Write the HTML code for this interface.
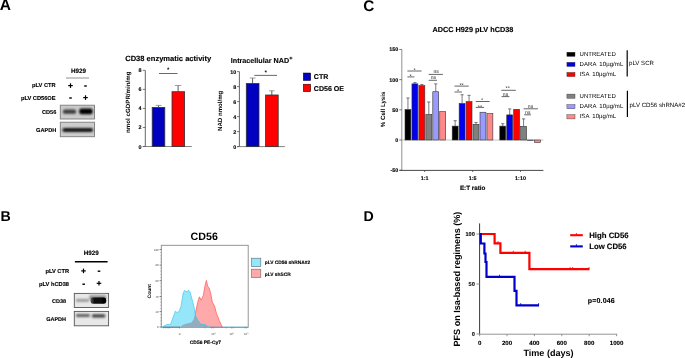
<!DOCTYPE html>
<html><head><meta charset="utf-8"><title>Figure</title>
<style>html,body{margin:0;padding:0;background:#fff;}svg{display:block;will-change:transform;}text{font-family:"Liberation Sans",sans-serif;text-rendering:geometricPrecision;}</style>
</head><body>
<svg width="685" height="358" viewBox="0 0 685 358" font-family="Liberation Sans, sans-serif">
<defs><filter id="bl3" x="-50%" y="-100%" width="200%" height="300%"><feGaussianBlur stdDeviation="0.85"/></filter><filter id="bl2" x="-50%" y="-100%" width="200%" height="300%"><feGaussianBlur stdDeviation="1.2"/></filter><filter id="bl" x="-50%" y="-100%" width="200%" height="300%"><feGaussianBlur stdDeviation="0.7"/></filter></defs>
<rect width="685" height="358" fill="#fff"/>
<text x="-0.2" y="10.3" font-size="15.5" font-weight="bold" text-anchor="start" fill="#000" >A</text>
<text x="0.4" y="220.8" font-size="14.2" font-weight="bold" text-anchor="start" fill="#000" >B</text>
<text x="363.2" y="10.8" font-size="15.3" font-weight="bold" text-anchor="start" fill="#000" >C</text>
<text x="363.6" y="220.8" font-size="14.2" font-weight="bold" text-anchor="start" fill="#000" >D</text>
<text x="78.5" y="73.2" font-size="6.3" font-weight="bold" text-anchor="middle" fill="#000" stroke="#000" stroke-width="0.12" >H929</text>
<line x1="66" y1="78" x2="89" y2="78" stroke="#aaa" stroke-width="1.3" />
<text x="55.6" y="87.0" font-size="5.7" font-weight="bold" text-anchor="end" fill="#000" stroke="#000" stroke-width="0.12" >pLV CTR</text>
<text x="55.6" y="99.6" font-size="5.7" font-weight="bold" text-anchor="end" fill="#000" stroke="#000" stroke-width="0.12" >pLV CD56OE</text>
<line x1="68.2" y1="85.6" x2="72.8" y2="85.6" stroke="#000" stroke-width="1.2" />
<line x1="70.5" y1="83.3" x2="70.5" y2="87.89999999999999" stroke="#000" stroke-width="1.2" />
<line x1="84.2" y1="86" x2="86.8" y2="86" stroke="#000" stroke-width="1.4" />
<line x1="69.2" y1="98" x2="71.8" y2="98" stroke="#000" stroke-width="1.4" />
<line x1="83.2" y1="97.6" x2="87.8" y2="97.6" stroke="#000" stroke-width="1.2" />
<line x1="85.5" y1="95.3" x2="85.5" y2="99.89999999999999" stroke="#000" stroke-width="1.2" />
<text x="56.3" y="113.6" font-size="5.6" font-weight="bold" text-anchor="end" fill="#000" stroke="#000" stroke-width="0.12" >CD56</text>
<text x="56.3" y="132.2" font-size="5.6" font-weight="bold" text-anchor="end" fill="#000" stroke="#000" stroke-width="0.12" >GAPDH</text>
<rect x="60.3" y="105.2" width="34.2" height="13.8" fill="#cbcbcb" stroke="#7c7c7c" stroke-width="0.9" />
<rect x="60.3" y="122.2" width="34.2" height="14.5" fill="#cdcdcd" stroke="#7c7c7c" stroke-width="0.9" />
<rect x="63" y="109.4" width="13" height="4.4" rx="1.5" fill="#3a3a3a" filter="url(#bl3)"/>
<rect x="79.3" y="108.4" width="13.3" height="5.8" rx="2" fill="#050505" filter="url(#bl3)"/>
<rect x="62.5" y="128.0" width="30.5" height="4.1" rx="1.8" fill="#151515" filter="url(#bl3)"/>
<text x="125.2" y="61" font-size="7.55" font-weight="bold" text-anchor="start" fill="#000" stroke="#000" stroke-width="0.12" >CD38 enzymatic activity</text>
<line x1="145.3" y1="70.4" x2="145.3" y2="146.5" stroke="#555" stroke-width="0.9" />
<line x1="142.8" y1="146.5" x2="191.8" y2="146.5" stroke="#777" stroke-width="0.9" />
<line x1="142.8" y1="146.5" x2="145.3" y2="146.5" stroke="#555" stroke-width="0.8" />
<text x="141.6" y="148.5" font-size="5.4" font-weight="bold" text-anchor="end" fill="#000" stroke="#000" stroke-width="0.12" >0</text>
<line x1="142.8" y1="127.46000000000001" x2="145.3" y2="127.46000000000001" stroke="#555" stroke-width="0.8" />
<text x="141.6" y="129.46" font-size="5.4" font-weight="bold" text-anchor="end" fill="#000" stroke="#000" stroke-width="0.12" >2</text>
<line x1="142.8" y1="108.42" x2="145.3" y2="108.42" stroke="#555" stroke-width="0.8" />
<text x="141.6" y="110.42" font-size="5.4" font-weight="bold" text-anchor="end" fill="#000" stroke="#000" stroke-width="0.12" >4</text>
<line x1="142.8" y1="89.38" x2="145.3" y2="89.38" stroke="#555" stroke-width="0.8" />
<text x="141.6" y="91.38" font-size="5.4" font-weight="bold" text-anchor="end" fill="#000" stroke="#000" stroke-width="0.12" >6</text>
<line x1="142.8" y1="70.34" x2="145.3" y2="70.34" stroke="#555" stroke-width="0.8" />
<text x="141.6" y="72.34" font-size="5.4" font-weight="bold" text-anchor="end" fill="#000" stroke="#000" stroke-width="0.12" >8</text>
<line x1="158.6" y1="107.4" x2="158.6" y2="105.4" stroke="#333" stroke-width="0.8" />
<line x1="155.7" y1="105.4" x2="161.5" y2="105.4" stroke="#777" stroke-width="0.7" />
<rect x="152.2" y="107.4" width="12.600000000000023" height="39.099999999999994" fill="#0000c0" stroke="#333" stroke-width="0.8" />
<line x1="178.1" y1="91.7" x2="178.1" y2="85.5" stroke="#333" stroke-width="0.8" />
<line x1="174.9" y1="85.5" x2="181.29999999999998" y2="85.5" stroke="#777" stroke-width="0.7" />
<rect x="172.0" y="91.7" width="12.599999999999994" height="54.8" fill="#ff0000" stroke="#333" stroke-width="0.8" />
<line x1="159" y1="73.5" x2="177.5" y2="73.5" stroke="#444" stroke-width="0.8" />
<text x="168.2" y="71.2" font-size="5" font-weight="bold" text-anchor="middle" fill="#000" stroke="#000" stroke-width="0.12" >*</text>
<text x="0" y="0" font-size="6.2" font-weight="bold" text-anchor="middle" transform="translate(130.4,102.2) rotate(-90)">nmol cGDPR/min/mg</text>
<text x="230.8" y="62.9" font-size="7.2" font-weight="bold" text-anchor="start" fill="#000" stroke="#000" stroke-width="0.12" >Intracellular NAD<tspan font-size="5.6" dy="-3.3">+</tspan></text>
<line x1="239.4" y1="71.6" x2="239.4" y2="146.6" stroke="#555" stroke-width="0.9" />
<line x1="237" y1="146.6" x2="284.9" y2="146.6" stroke="#777" stroke-width="0.9" />
<line x1="237" y1="146.6" x2="239.4" y2="146.6" stroke="#555" stroke-width="0.8" />
<text x="236.2" y="148.6" font-size="5.4" font-weight="bold" text-anchor="end" fill="#000" stroke="#000" stroke-width="0.12" >0</text>
<line x1="237" y1="131.6" x2="239.4" y2="131.6" stroke="#555" stroke-width="0.8" />
<text x="236.2" y="133.6" font-size="5.4" font-weight="bold" text-anchor="end" fill="#000" stroke="#000" stroke-width="0.12" >2</text>
<line x1="237" y1="116.6" x2="239.4" y2="116.6" stroke="#555" stroke-width="0.8" />
<text x="236.2" y="118.6" font-size="5.4" font-weight="bold" text-anchor="end" fill="#000" stroke="#000" stroke-width="0.12" >4</text>
<line x1="237" y1="101.6" x2="239.4" y2="101.6" stroke="#555" stroke-width="0.8" />
<text x="236.2" y="103.6" font-size="5.4" font-weight="bold" text-anchor="end" fill="#000" stroke="#000" stroke-width="0.12" >6</text>
<line x1="237" y1="86.6" x2="239.4" y2="86.6" stroke="#555" stroke-width="0.8" />
<text x="236.2" y="88.6" font-size="5.4" font-weight="bold" text-anchor="end" fill="#000" stroke="#000" stroke-width="0.12" >8</text>
<line x1="237" y1="71.6" x2="239.4" y2="71.6" stroke="#555" stroke-width="0.8" />
<text x="236.2" y="73.6" font-size="5.4" font-weight="bold" text-anchor="end" fill="#000" stroke="#000" stroke-width="0.12" >10</text>
<line x1="252.6" y1="83.5" x2="252.6" y2="78" stroke="#333" stroke-width="0.8" />
<line x1="249.7" y1="78" x2="255.5" y2="78" stroke="#777" stroke-width="0.7" />
<rect x="246.3" y="83.5" width="12.699999999999989" height="63.099999999999994" fill="#0000c0" stroke="#333" stroke-width="0.8" />
<line x1="271.8" y1="95" x2="271.8" y2="90.8" stroke="#333" stroke-width="0.8" />
<line x1="269.0" y1="90.8" x2="274.6" y2="90.8" stroke="#777" stroke-width="0.7" />
<rect x="265.6" y="95" width="12.599999999999966" height="51.599999999999994" fill="#ff0000" stroke="#333" stroke-width="0.8" />
<line x1="254.3" y1="75.4" x2="277" y2="75.4" stroke="#444" stroke-width="0.8" />
<text x="265.8" y="74.4" font-size="5.2" font-weight="bold" text-anchor="middle" fill="#000" stroke="#000" stroke-width="0.12" >*</text>
<text x="0" y="0" font-size="6.1" font-weight="bold" text-anchor="middle" transform="translate(222.4,110.8) rotate(-90)">NAD nmol/mg</text>
<rect x="303.3" y="73" width="7.4" height="7.5" fill="#0000c8" stroke="#000" stroke-width="0.5" />
<rect x="303.3" y="84.2" width="7.4" height="7.5" fill="#ff0000" stroke="#000" stroke-width="0.5" />
<text x="313.8" y="79.1" font-size="7.05" font-weight="bold" text-anchor="start" fill="#000" stroke="#000" stroke-width="0.12" >CTR</text>
<text x="313.8" y="90.5" font-size="7.05" font-weight="bold" text-anchor="start" fill="#000" stroke="#000" stroke-width="0.12" >CD56 OE</text>
<text x="432.4" y="31.5" font-size="7.3" font-weight="bold" text-anchor="start" fill="#000" stroke="#000" stroke-width="0.12" >ADCC H929 pLV hCD38</text>
<line x1="401.8" y1="49.6" x2="401.8" y2="170.4" stroke="#9a9a9a" stroke-width="1.1" />
<line x1="399.4" y1="170.4" x2="543.4" y2="170.4" stroke="#333" stroke-width="0.9" />
<line x1="401.8" y1="140.0" x2="543.4" y2="140.0" stroke="#bdbdbd" stroke-width="0.9" />
<line x1="399.3" y1="49.474999999999994" x2="401.8" y2="49.474999999999994" stroke="#555" stroke-width="0.8" />
<text x="398.3" y="51.37499999999999" font-size="5.4" font-weight="bold" text-anchor="end" fill="#000" stroke="#000" stroke-width="0.12" >150</text>
<line x1="399.3" y1="79.65" x2="401.8" y2="79.65" stroke="#555" stroke-width="0.8" />
<text x="398.3" y="81.55000000000001" font-size="5.4" font-weight="bold" text-anchor="end" fill="#000" stroke="#000" stroke-width="0.12" >100</text>
<line x1="399.3" y1="109.825" x2="401.8" y2="109.825" stroke="#555" stroke-width="0.8" />
<text x="398.3" y="111.72500000000001" font-size="5.4" font-weight="bold" text-anchor="end" fill="#000" stroke="#000" stroke-width="0.12" >50</text>
<line x1="399.3" y1="140.0" x2="401.8" y2="140.0" stroke="#555" stroke-width="0.8" />
<text x="398.3" y="141.9" font-size="5.4" font-weight="bold" text-anchor="end" fill="#000" stroke="#000" stroke-width="0.12" >0</text>
<line x1="399.3" y1="170.175" x2="401.8" y2="170.175" stroke="#555" stroke-width="0.8" />
<text x="398.3" y="172.07500000000002" font-size="5.4" font-weight="bold" text-anchor="end" fill="#000" stroke="#000" stroke-width="0.12" >-50</text>
<line x1="424.6" y1="170.4" x2="424.6" y2="172" stroke="#333" stroke-width="0.7" />
<text x="424.6" y="179.5" font-size="5.4" font-weight="bold" text-anchor="middle" fill="#000" stroke="#000" stroke-width="0.12" >1:1</text>
<line x1="472.7" y1="170.4" x2="472.7" y2="172" stroke="#333" stroke-width="0.7" />
<text x="472.7" y="179.5" font-size="5.4" font-weight="bold" text-anchor="middle" fill="#000" stroke="#000" stroke-width="0.12" >1:5</text>
<line x1="520.5" y1="170.4" x2="520.5" y2="172" stroke="#333" stroke-width="0.7" />
<text x="520.5" y="179.5" font-size="5.4" font-weight="bold" text-anchor="middle" fill="#000" stroke="#000" stroke-width="0.12" >1:10</text>
<text x="472.7" y="190.2" font-size="6.3" font-weight="bold" text-anchor="middle" fill="#000" stroke="#000" stroke-width="0.12" >E:T ratio</text>
<text x="0" y="0" font-size="6.15" font-weight="bold" text-anchor="middle" transform="translate(385.4,109.4) rotate(-90)">% Cell Lysis</text>
<line x1="407.95" y1="109.52324999999999" x2="407.95" y2="97.9964" stroke="#444" stroke-width="0.7" />
<line x1="406.34999999999997" y1="97.9964" x2="409.55" y2="97.9964" stroke="#444" stroke-width="0.7" />
<rect x="405.0" y="109.52324999999999" width="5.899999999999977" height="30.47675000000001" fill="#000000" stroke="#333" stroke-width="0.6" />
<line x1="414.9" y1="83.8745" x2="414.9" y2="82.66749999999999" stroke="#444" stroke-width="0.7" />
<line x1="413.29999999999995" y1="82.66749999999999" x2="416.5" y2="82.66749999999999" stroke="#444" stroke-width="0.7" />
<rect x="411.95" y="83.8745" width="5.899999999999977" height="56.1255" fill="#0000ee" stroke="#333" stroke-width="0.6" />
<line x1="421.84999999999997" y1="85.685" x2="421.84999999999997" y2="84.478" stroke="#444" stroke-width="0.7" />
<line x1="420.24999999999994" y1="84.478" x2="423.45" y2="84.478" stroke="#444" stroke-width="0.7" />
<rect x="418.9" y="85.685" width="5.899999999999977" height="54.315" fill="#ff0000" stroke="#333" stroke-width="0.6" />
<line x1="428.8" y1="114.47194999999999" x2="428.8" y2="101.9795" stroke="#444" stroke-width="0.7" />
<line x1="427.2" y1="101.9795" x2="430.40000000000003" y2="101.9795" stroke="#444" stroke-width="0.7" />
<rect x="425.85" y="114.47194999999999" width="5.899999999999977" height="25.528050000000007" fill="#808080" stroke="#333" stroke-width="0.6" />
<line x1="435.75" y1="91.72" x2="435.75" y2="83.8745" stroke="#444" stroke-width="0.7" />
<line x1="434.15" y1="83.8745" x2="437.35" y2="83.8745" stroke="#444" stroke-width="0.7" />
<rect x="432.8" y="91.72" width="5.899999999999977" height="48.28" fill="#9999ff" stroke="#333" stroke-width="0.6" />
<rect x="439.75" y="111.6355" width="5.899999999999977" height="28.364500000000007" fill="#ff8888" stroke="#333" stroke-width="0.6" />
<line x1="455.15" y1="126.1195" x2="455.15" y2="120.688" stroke="#444" stroke-width="0.7" />
<line x1="453.54999999999995" y1="120.688" x2="456.75" y2="120.688" stroke="#444" stroke-width="0.7" />
<rect x="452.2" y="126.1195" width="5.899999999999977" height="13.880499999999998" fill="#000000" stroke="#333" stroke-width="0.6" />
<line x1="462.09999999999997" y1="103.48825" x2="462.09999999999997" y2="94.7375" stroke="#444" stroke-width="0.7" />
<line x1="460.49999999999994" y1="94.7375" x2="463.7" y2="94.7375" stroke="#444" stroke-width="0.7" />
<rect x="459.15" y="103.48825" width="5.899999999999977" height="36.511750000000006" fill="#0000ee" stroke="#333" stroke-width="0.6" />
<line x1="469.04999999999995" y1="101.6174" x2="469.04999999999995" y2="95.341" stroke="#444" stroke-width="0.7" />
<line x1="467.44999999999993" y1="95.341" x2="470.65" y2="95.341" stroke="#444" stroke-width="0.7" />
<rect x="466.09999999999997" y="101.6174" width="5.899999999999977" height="38.3826" fill="#ff0000" stroke="#333" stroke-width="0.6" />
<line x1="476.0" y1="124.309" x2="476.0" y2="122.4985" stroke="#444" stroke-width="0.7" />
<line x1="474.4" y1="122.4985" x2="477.6" y2="122.4985" stroke="#444" stroke-width="0.7" />
<rect x="473.05" y="124.309" width="5.899999999999977" height="15.691000000000003" fill="#808080" stroke="#333" stroke-width="0.6" />
<rect x="480.0" y="112.239" width="5.899999999999977" height="27.760999999999996" fill="#9999ff" stroke="#333" stroke-width="0.6" />
<rect x="486.95" y="113.6874" width="5.899999999999977" height="26.312600000000003" fill="#ff8888" stroke="#333" stroke-width="0.6" />
<line x1="502.75" y1="126.1195" x2="502.75" y2="123.7055" stroke="#444" stroke-width="0.7" />
<line x1="501.15" y1="123.7055" x2="504.35" y2="123.7055" stroke="#444" stroke-width="0.7" />
<rect x="499.8" y="126.1195" width="5.899999999999977" height="13.880499999999998" fill="#000000" stroke="#333" stroke-width="0.6" />
<line x1="509.7" y1="114.89439999999999" x2="509.7" y2="108.91975" stroke="#444" stroke-width="0.7" />
<line x1="508.09999999999997" y1="108.91975" x2="511.3" y2="108.91975" stroke="#444" stroke-width="0.7" />
<rect x="506.75" y="114.89439999999999" width="5.899999999999977" height="25.10560000000001" fill="#0000ee" stroke="#333" stroke-width="0.6" />
<rect x="513.7" y="109.34219999999999" width="5.899999999999977" height="30.65780000000001" fill="#ff0000" stroke="#333" stroke-width="0.6" />
<line x1="523.5999999999999" y1="126.42125" x2="523.5999999999999" y2="118.8775" stroke="#444" stroke-width="0.7" />
<line x1="521.9999999999999" y1="118.8775" x2="525.1999999999999" y2="118.8775" stroke="#444" stroke-width="0.7" />
<rect x="520.65" y="126.42125" width="5.899999999999977" height="13.57875" fill="#808080" stroke="#333" stroke-width="0.6" />
<rect x="527.6" y="140.0" width="5.899999999999977" height="0.6034999999999968" fill="#9999ff" stroke="#333" stroke-width="0.6" />
<rect x="534.55" y="140.0" width="5.899999999999977" height="2.4139999999999873" fill="#ff8888" stroke="#333" stroke-width="0.6" />
<line x1="407.4" y1="71" x2="421.6" y2="71" stroke="#333" stroke-width="0.75" />
<text x="414.7" y="71.7" font-size="5.6" font-weight="normal" text-anchor="middle" fill="#222" >*</text>
<line x1="407.4" y1="76.9" x2="414.4" y2="76.9" stroke="#333" stroke-width="0.75" />
<text x="410.7" y="78.4" font-size="5.6" font-weight="normal" text-anchor="middle" fill="#222" >*</text>
<line x1="428.7" y1="74.4" x2="442.9" y2="74.4" stroke="#333" stroke-width="0.75" />
<text x="436.2" y="72.8" font-size="5.1" font-weight="normal" text-anchor="middle" fill="#222" >ns</text>
<line x1="428.7" y1="80.3" x2="437" y2="80.3" stroke="#333" stroke-width="0.75" />
<text x="433.4" y="78.9" font-size="5.1" font-weight="normal" text-anchor="middle" fill="#222" >ns</text>
<line x1="454.5" y1="86.1" x2="468.7" y2="86.1" stroke="#333" stroke-width="0.75" />
<text x="461.6" y="86.5" font-size="5.6" font-weight="normal" text-anchor="middle" fill="#222" >**</text>
<line x1="454.5" y1="92" x2="462" y2="92" stroke="#333" stroke-width="0.75" />
<text x="458" y="92.8" font-size="5.6" font-weight="normal" text-anchor="middle" fill="#222" >*</text>
<line x1="475.8" y1="101.5" x2="489.6" y2="101.5" stroke="#333" stroke-width="0.75" />
<text x="482.2" y="101.9" font-size="5.6" font-weight="normal" text-anchor="middle" fill="#222" >*</text>
<line x1="475.8" y1="107.4" x2="484.1" y2="107.4" stroke="#333" stroke-width="0.75" />
<text x="480" y="109.2" font-size="5.6" font-weight="normal" text-anchor="middle" fill="#222" >**</text>
<line x1="501.3" y1="90.3" x2="515.8" y2="90.3" stroke="#333" stroke-width="0.75" />
<text x="507.7" y="89.6" font-size="5.6" font-weight="normal" text-anchor="middle" fill="#222" >**</text>
<line x1="501.6" y1="96.6" x2="509.4" y2="96.6" stroke="#333" stroke-width="0.75" />
<text x="505.5" y="95.6" font-size="5.1" font-weight="normal" text-anchor="middle" fill="#222" >ns</text>
<line x1="523.6" y1="108.8" x2="537.9" y2="108.8" stroke="#333" stroke-width="0.75" />
<text x="530.5" y="107.9" font-size="5.1" font-weight="normal" text-anchor="middle" fill="#222" >ns</text>
<line x1="524.2" y1="114.8" x2="530.9" y2="114.8" stroke="#333" stroke-width="0.75" />
<text x="527.8" y="114.0" font-size="5.1" font-weight="normal" text-anchor="middle" fill="#222" >ns</text>
<rect x="566.9" y="52.2" width="8.1" height="4.2" fill="#000000" stroke="#333" stroke-width="0.4" />
<text x="579.6" y="55.900000000000006" font-size="6.0" font-weight="normal" text-anchor="start" fill="#000" >UNTREATED</text>
<rect x="566.9" y="62.3" width="8.1" height="4.2" fill="#0000ee" stroke="#333" stroke-width="0.4" />
<text x="579.6" y="66.0" font-size="6.0" font-weight="normal" text-anchor="start" fill="#000" word-spacing="1.3" letter-spacing="0.08">DARA 10µg/mL</text>
<rect x="566.9" y="72.4" width="8.1" height="4.2" fill="#ff0000" stroke="#333" stroke-width="0.4" />
<text x="579.6" y="76.10000000000001" font-size="6.0" font-weight="normal" text-anchor="start" fill="#000" word-spacing="1.3" letter-spacing="0.08">ISA 10µg/mL</text>
<rect x="566.9" y="94.1" width="8.1" height="4.2" fill="#808080" stroke="#333" stroke-width="0.4" />
<text x="579.6" y="97.8" font-size="6.0" font-weight="normal" text-anchor="start" fill="#000" >UNTREATED</text>
<rect x="566.9" y="104.6" width="8.1" height="4.2" fill="#9999ff" stroke="#333" stroke-width="0.4" />
<text x="579.6" y="108.3" font-size="6.0" font-weight="normal" text-anchor="start" fill="#000" word-spacing="1.3" letter-spacing="0.08">DARA 10µg/mL</text>
<rect x="566.9" y="114.7" width="8.1" height="4.2" fill="#ff8888" stroke="#333" stroke-width="0.4" />
<text x="579.6" y="118.4" font-size="6.0" font-weight="normal" text-anchor="start" fill="#000" word-spacing="1.3" letter-spacing="0.08">ISA 10µg/mL</text>
<line x1="627.2" y1="50.3" x2="627.2" y2="76.5" stroke="#000" stroke-width="1.2" />
<line x1="627.4" y1="90.8" x2="627.4" y2="116.9" stroke="#000" stroke-width="1.2" />
<text x="629.0" y="65.4" font-size="6.1" font-weight="normal" text-anchor="start" fill="#000" >pLV SCR</text>
<text x="629.6" y="107.3" font-size="6.1" font-weight="normal" text-anchor="start" fill="#000" >pLV CD56 shRNA#2</text>
<text x="91.2" y="254.8" font-size="6.3" font-weight="bold" text-anchor="middle" fill="#000" stroke="#000" stroke-width="0.12" >H929</text>
<line x1="74.9" y1="261.7" x2="107.6" y2="261.7" stroke="#000" stroke-width="1.5" />
<text x="69.0" y="273.1" font-size="5.7" font-weight="bold" text-anchor="end" fill="#000" stroke="#000" stroke-width="0.12" >pLV CTR</text>
<text x="69.0" y="285.7" font-size="5.7" font-weight="bold" text-anchor="end" fill="#000" stroke="#000" stroke-width="0.12" >pLV hCD38</text>
<line x1="81.2" y1="270.9" x2="85.8" y2="270.9" stroke="#000" stroke-width="1.2" />
<line x1="83.5" y1="268.59999999999997" x2="83.5" y2="273.2" stroke="#000" stroke-width="1.2" />
<line x1="97.7" y1="271.2" x2="100.3" y2="271.2" stroke="#000" stroke-width="1.4" />
<line x1="82.4" y1="284.2" x2="85.0" y2="284.2" stroke="#000" stroke-width="1.4" />
<line x1="96.7" y1="283.3" x2="101.3" y2="283.3" stroke="#000" stroke-width="1.2" />
<line x1="99" y1="281.0" x2="99" y2="285.6" stroke="#000" stroke-width="1.2" />
<text x="66.0" y="302.5" font-size="5.5" font-weight="bold" text-anchor="end" fill="#000" stroke="#000" stroke-width="0.12" >CD38</text>
<text x="66.0" y="320.6" font-size="5.5" font-weight="bold" text-anchor="end" fill="#000" stroke="#000" stroke-width="0.12" >GAPDH</text>
<rect x="74.3" y="293.4" width="34.3" height="14.1" fill="#e8e8e8" stroke="#555" stroke-width="0.9" />
<rect x="74.3" y="311.4" width="34.3" height="14.4" fill="#e8e8e8" stroke="#555" stroke-width="0.9" />
<defs><linearGradient id="hz" x1="0" y1="0" x2="0" y2="1"><stop offset="0" stop-color="#d0d0d0"/><stop offset="1" stop-color="#505050"/></linearGradient><linearGradient id="cg" x1="0" y1="0" x2="1" y2="0"><stop offset="0" stop-color="#555"/><stop offset="0.25" stop-color="#111"/><stop offset="1" stop-color="#000"/></linearGradient></defs>
<rect x="89.5" y="294.2" width="16.5" height="5.5" fill="url(#hz)" filter="url(#bl2)"/>
<rect x="90.6" y="297.6" width="15.6" height="6.2" rx="2.4" fill="url(#cg)" filter="url(#bl)"/>
<rect x="76" y="299.0" width="13" height="2.7" rx="1" fill="#959595" filter="url(#bl3)"/>
<rect x="76" y="313.9" width="13.9" height="3.0" rx="1.2" fill="#5e5e5e" filter="url(#bl3)"/>
<rect x="92" y="314.2" width="13.3" height="3.3" rx="1.3" fill="#3c3c3c" filter="url(#bl3)"/>
<text x="204.2" y="240.1" font-size="10.7" font-weight="bold" text-anchor="middle" fill="#000" >CD56</text>
<rect x="161.3" y="245.3" width="86.9" height="82.0" fill="none" stroke="#8a8a8a" stroke-width="0.9" />
<defs><clipPath id="redclip"><polygon points="179.5,327.3 183.7,324.4 187.9,323.3 191.4,322.6 193.5,319.8 195.6,312.1 197.7,302.3 199.4,296.8 201.2,300.2 203.3,295.4 205,285.6 206.4,280.4 207.7,286.3 209.1,287.7 210.5,292.6 212.4,302.3 214.5,305.8 216.5,313.5 219.3,320.5 222.1,326.8 223,327.3"/></clipPath></defs>
<polygon points="179.5,327.3 183.7,324.4 187.9,323.3 191.4,322.6 193.5,319.8 195.6,312.1 197.7,302.3 199.4,296.8 201.2,300.2 203.3,295.4 205,285.6 206.4,280.4 207.7,286.3 209.1,287.7 210.5,292.6 212.4,302.3 214.5,305.8 216.5,313.5 219.3,320.5 222.1,326.8 223,327.3" fill="#ffaaaa" stroke="#ff5555" stroke-width="0.7"/>
<polygon points="161.3,327.3 163,326.6 167,324.4 170.5,324.4 174,314.9 175.4,311 176.8,312.4 178.8,311.8 181,306.5 183,294 184.4,290.5 185.8,291.2 187.2,291.9 188.6,290.2 190,291.9 192.1,299.5 194.2,307.9 195.6,316.3 198.4,321.2 201.2,324.4 204.7,324.4 208.2,326.8 210,327.3" fill="#96e6fa" stroke="#3cc8f0" stroke-width="0.7"/>
<polygon points="161.3,327.3 163,326.6 167,324.4 170.5,324.4 174,314.9 175.4,311 176.8,312.4 178.8,311.8 181,306.5 183,294 184.4,290.5 185.8,291.2 187.2,291.9 188.6,290.2 190,291.9 192.1,299.5 194.2,307.9 195.6,316.3 198.4,321.2 201.2,324.4 204.7,324.4 208.2,326.8 210,327.3" fill="#93acbf" clip-path="url(#redclip)"/>
<polyline points="161.3,327.3 163,326.6 167,324.4 170.5,324.4 174,314.9 175.4,311 176.8,312.4 178.8,311.8 181,306.5 183,294 184.4,290.5 185.8,291.2 187.2,291.9 188.6,290.2 190,291.9 192.1,299.5 194.2,307.9 195.6,316.3 198.4,321.2 201.2,324.4 204.7,324.4 208.2,326.8 210,327.3" fill="none" stroke="#3cc8f0" stroke-width="0.6" clip-path="url(#redclip)"/>
<line x1="163" y1="327.1" x2="180" y2="327.1" stroke="#8b3a3a" stroke-width="0.6" />
<line x1="210" y1="327.1" x2="248" y2="327.1" stroke="#3ab0d8" stroke-width="0.7" />
<line x1="159.6" y1="249.5" x2="161.3" y2="249.5" stroke="#333" stroke-width="0.6" />
<text x="158.6" y="250.5" font-size="2.8" font-weight="normal" text-anchor="end" fill="#444" >100</text>
<line x1="159.6" y1="265.1" x2="161.3" y2="265.1" stroke="#333" stroke-width="0.6" />
<text x="158.6" y="266.1" font-size="2.8" font-weight="normal" text-anchor="end" fill="#444" >80</text>
<line x1="159.6" y1="280.7" x2="161.3" y2="280.7" stroke="#333" stroke-width="0.6" />
<text x="158.6" y="281.7" font-size="2.8" font-weight="normal" text-anchor="end" fill="#444" >60</text>
<line x1="159.6" y1="296.5" x2="161.3" y2="296.5" stroke="#333" stroke-width="0.6" />
<text x="158.6" y="297.5" font-size="2.8" font-weight="normal" text-anchor="end" fill="#444" >40</text>
<line x1="159.6" y1="311.6" x2="161.3" y2="311.6" stroke="#333" stroke-width="0.6" />
<text x="158.6" y="312.6" font-size="2.8" font-weight="normal" text-anchor="end" fill="#444" >20</text>
<line x1="159.6" y1="327.0" x2="161.3" y2="327.0" stroke="#333" stroke-width="0.6" />
<text x="158.6" y="328.0" font-size="2.8" font-weight="normal" text-anchor="end" fill="#444" >0</text>
<line x1="160.4" y1="252.6" x2="161.3" y2="252.6" stroke="#555" stroke-width="0.4" />
<line x1="160.4" y1="255.7" x2="161.3" y2="255.7" stroke="#555" stroke-width="0.4" />
<line x1="160.4" y1="258.8" x2="161.3" y2="258.8" stroke="#555" stroke-width="0.4" />
<line x1="160.4" y1="261.9" x2="161.3" y2="261.9" stroke="#555" stroke-width="0.4" />
<line x1="160.4" y1="268.1" x2="161.3" y2="268.1" stroke="#555" stroke-width="0.4" />
<line x1="160.4" y1="271.2" x2="161.3" y2="271.2" stroke="#555" stroke-width="0.4" />
<line x1="160.4" y1="274.3" x2="161.3" y2="274.3" stroke="#555" stroke-width="0.4" />
<line x1="160.4" y1="277.4" x2="161.3" y2="277.4" stroke="#555" stroke-width="0.4" />
<line x1="160.4" y1="283.6" x2="161.3" y2="283.6" stroke="#555" stroke-width="0.4" />
<line x1="160.4" y1="286.7" x2="161.3" y2="286.7" stroke="#555" stroke-width="0.4" />
<line x1="160.4" y1="289.8" x2="161.3" y2="289.8" stroke="#555" stroke-width="0.4" />
<line x1="160.4" y1="292.9" x2="161.3" y2="292.9" stroke="#555" stroke-width="0.4" />
<line x1="160.4" y1="299.1" x2="161.3" y2="299.1" stroke="#555" stroke-width="0.4" />
<line x1="160.4" y1="302.2" x2="161.3" y2="302.2" stroke="#555" stroke-width="0.4" />
<line x1="160.4" y1="305.3" x2="161.3" y2="305.3" stroke="#555" stroke-width="0.4" />
<line x1="160.4" y1="308.4" x2="161.3" y2="308.4" stroke="#555" stroke-width="0.4" />
<line x1="160.4" y1="314.6" x2="161.3" y2="314.6" stroke="#555" stroke-width="0.4" />
<line x1="160.4" y1="317.7" x2="161.3" y2="317.7" stroke="#555" stroke-width="0.4" />
<line x1="160.4" y1="320.8" x2="161.3" y2="320.8" stroke="#555" stroke-width="0.4" />
<line x1="160.4" y1="323.9" x2="161.3" y2="323.9" stroke="#555" stroke-width="0.4" />
<text x="0" y="0" font-size="5.0" font-weight="bold" text-anchor="middle" transform="translate(150.6,291.2) rotate(-90)">Count</text>
<line x1="163.5" y1="327.3" x2="163.5" y2="328.5" stroke="#555" stroke-width="0.4" />
<line x1="166" y1="327.3" x2="166" y2="328.5" stroke="#555" stroke-width="0.4" />
<line x1="168" y1="327.3" x2="168" y2="328.5" stroke="#555" stroke-width="0.4" />
<line x1="169.5" y1="327.3" x2="169.5" y2="328.5" stroke="#555" stroke-width="0.4" />
<line x1="179.5" y1="327.3" x2="179.5" y2="328.5" stroke="#555" stroke-width="0.4" />
<line x1="205" y1="327.3" x2="205" y2="328.5" stroke="#555" stroke-width="0.4" />
<line x1="211.5" y1="327.3" x2="211.5" y2="328.5" stroke="#555" stroke-width="0.4" />
<line x1="213.3" y1="327.3" x2="213.3" y2="328.5" stroke="#555" stroke-width="0.4" />
<line x1="226" y1="327.3" x2="226" y2="328.5" stroke="#555" stroke-width="0.4" />
<line x1="231.5" y1="327.3" x2="231.5" y2="328.5" stroke="#555" stroke-width="0.4" />
<line x1="233" y1="327.3" x2="233" y2="328.5" stroke="#555" stroke-width="0.4" />
<line x1="245" y1="327.3" x2="245" y2="328.5" stroke="#555" stroke-width="0.4" />
<line x1="246.5" y1="327.3" x2="246.5" y2="328.5" stroke="#555" stroke-width="0.4" />
<text x="179.5" y="335.4" font-size="3.0" font-weight="normal" text-anchor="middle" fill="#333" >0</text>
<text x="213.4" y="334.8" font-size="2.8" font-weight="normal" text-anchor="middle" fill="#444" >10<tspan font-size="2.0" dy="-1.1">3</tspan></text>
<text x="231.6" y="334.8" font-size="2.8" font-weight="normal" text-anchor="middle" fill="#444" >10<tspan font-size="2.0" dy="-1.1">3</tspan></text>
<text x="246.2" y="334.8" font-size="2.8" font-weight="normal" text-anchor="middle" fill="#444" >10<tspan font-size="2.0" dy="-1.1">3</tspan></text>
<text x="205.4" y="343.6" font-size="4.95" font-weight="bold" text-anchor="middle" fill="#000" stroke="#000" stroke-width="0.12" >CD56 PE-Cy7</text>
<rect x="251.6" y="258.2" width="9.2" height="8.4" fill="#96e6fa" stroke="#5a6a70" stroke-width="0.6" />
<rect x="251.6" y="269.2" width="9.2" height="8.4" fill="#ffaaaa" stroke="#706060" stroke-width="0.6" />
<text x="264.7" y="264.4" font-size="4.85" font-weight="bold" text-anchor="start" fill="#000" stroke="#000" stroke-width="0.12" >pLV CD56 shRNA#2</text>
<text x="264.7" y="275.8" font-size="4.85" font-weight="bold" text-anchor="start" fill="#000" stroke="#000" stroke-width="0.12" >pLV shSCR</text>
<line x1="479.6" y1="223.4" x2="479.6" y2="334.3" stroke="#222" stroke-width="0.9" />
<line x1="479.3" y1="334.2" x2="617.2" y2="334.2" stroke="#888" stroke-width="0.9" />
<line x1="476.5" y1="234" x2="479.6" y2="234" stroke="#888" stroke-width="0.9" />
<text x="474.8" y="236" font-size="5.6" font-weight="bold" text-anchor="end" fill="#000" stroke="#000" stroke-width="0.12" >100</text>
<line x1="476.5" y1="284" x2="479.6" y2="284" stroke="#888" stroke-width="0.9" />
<text x="474.8" y="286" font-size="5.6" font-weight="bold" text-anchor="end" fill="#000" stroke="#000" stroke-width="0.12" >50</text>
<line x1="476.5" y1="334" x2="479.6" y2="334" stroke="#888" stroke-width="0.9" />
<text x="474.8" y="336" font-size="5.6" font-weight="bold" text-anchor="end" fill="#000" stroke="#000" stroke-width="0.12" >0</text>
<line x1="479.6" y1="334.2" x2="479.6" y2="336.2" stroke="#888" stroke-width="0.9" />
<text x="479.6" y="344.7" font-size="6.1" font-weight="bold" text-anchor="middle" fill="#000" stroke="#000" stroke-width="0.12" >0</text>
<line x1="507.0" y1="334.2" x2="507.0" y2="336.2" stroke="#888" stroke-width="0.9" />
<text x="507.0" y="344.7" font-size="6.1" font-weight="bold" text-anchor="middle" fill="#000" stroke="#000" stroke-width="0.12" >200</text>
<line x1="534.4" y1="334.2" x2="534.4" y2="336.2" stroke="#888" stroke-width="0.9" />
<text x="534.4" y="344.7" font-size="6.1" font-weight="bold" text-anchor="middle" fill="#000" stroke="#000" stroke-width="0.12" >400</text>
<line x1="561.8" y1="334.2" x2="561.8" y2="336.2" stroke="#888" stroke-width="0.9" />
<text x="561.8" y="344.7" font-size="6.1" font-weight="bold" text-anchor="middle" fill="#000" stroke="#000" stroke-width="0.12" >600</text>
<line x1="589.2" y1="334.2" x2="589.2" y2="336.2" stroke="#888" stroke-width="0.9" />
<text x="589.2" y="344.7" font-size="6.1" font-weight="bold" text-anchor="middle" fill="#000" stroke="#000" stroke-width="0.12" >800</text>
<line x1="616.6" y1="334.2" x2="616.6" y2="336.2" stroke="#888" stroke-width="0.9" />
<text x="616.6" y="344.7" font-size="6.1" font-weight="bold" text-anchor="middle" fill="#000" stroke="#000" stroke-width="0.12" >1000</text>
<text x="548.5" y="356.2" font-size="9.05" font-weight="bold" text-anchor="middle" fill="#000" >Time (days)</text>
<text x="0" y="0" font-size="9.05" font-weight="bold" text-anchor="middle" transform="translate(460.1,279.1) rotate(-90)">PFS on Isa-based regimens (%)</text>
<polyline points="479.6,234 494.6,234 494.6,243.3 500.4,243.3 500.4,252.9 529.4,252.9 529.4,269.2 589.4,269.2" fill="none" stroke="#ff0000" stroke-width="2.2"/>
<polyline points="479.6,234 480.8,234 480.8,243.5 484.4,243.5 484.4,253.5 485.5,253.5 485.5,262 486.5,262 486.5,276.9 514.5,276.9 514.5,290.8 516.5,290.8 516.5,305.3 539,305.3" fill="none" stroke="#0000c8" stroke-width="2.2"/>
<line x1="498" y1="241.10000000000002" x2="498" y2="243.3" stroke="#f00" stroke-width="0.8" />
<line x1="513.3" y1="250.70000000000002" x2="513.3" y2="252.9" stroke="#f00" stroke-width="0.8" />
<line x1="525.2" y1="250.70000000000002" x2="525.2" y2="252.9" stroke="#f00" stroke-width="0.8" />
<line x1="570.2" y1="267.0" x2="570.2" y2="269.2" stroke="#f00" stroke-width="0.8" />
<line x1="572.7" y1="267.0" x2="572.7" y2="269.2" stroke="#f00" stroke-width="0.8" />
<line x1="589" y1="267.0" x2="589" y2="269.2" stroke="#f00" stroke-width="0.8" />
<line x1="499.5" y1="274.7" x2="499.5" y2="276.9" stroke="#00c" stroke-width="0.8" />
<line x1="520.7" y1="303.1" x2="520.7" y2="305.3" stroke="#00c" stroke-width="0.8" />
<line x1="538.6" y1="303.1" x2="538.6" y2="305.3" stroke="#00c" stroke-width="0.8" />
<line x1="570.2" y1="235.2" x2="582.8" y2="235.2" stroke="#ff0000" stroke-width="2.1" />
<line x1="576.4" y1="233" x2="576.4" y2="235.2" stroke="#ff0000" stroke-width="0.8" />
<line x1="570.2" y1="246.4" x2="582.8" y2="246.4" stroke="#0000cc" stroke-width="2.1" />
<line x1="576.4" y1="244.2" x2="576.4" y2="246.4" stroke="#0000cc" stroke-width="0.8" />
<text x="589.2" y="237.6" font-size="7.8" font-weight="bold" text-anchor="start" fill="#000" stroke="#000" stroke-width="0.12" >High CD56</text>
<text x="589.2" y="248.8" font-size="7.75" font-weight="bold" text-anchor="start" fill="#000" stroke="#000" stroke-width="0.12" >Low CD56</text>
<text x="587.8" y="302.8" font-size="7.05" font-weight="bold" text-anchor="start" fill="#000" stroke="#000" stroke-width="0.12" letter-spacing="0.15">p=0.046</text>
</svg>
</body></html>
